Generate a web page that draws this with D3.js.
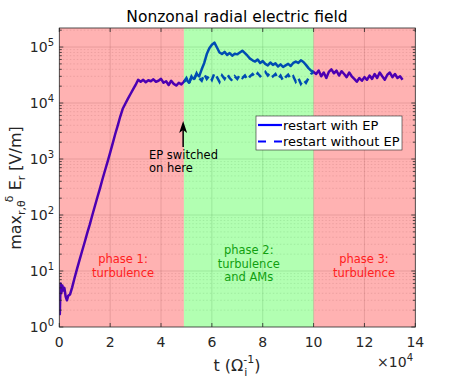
<!DOCTYPE html>
<html>
<head>
<meta charset="utf-8">
<script src="https://cdn.jsdelivr.net/npm/d3@7"></script>
<style>
  body { margin: 0; background: #fff; }
  text { font-family: "DejaVu Sans", sans-serif; fill: #262626; }
</style>
</head>
<body>
<div id="chart"></div>
<script>
// time in units of 1e4 / Omega_i
const tWith = [0, 0.02, 0.05, 0.08, 0.12, 0.16, 0.2, 0.25, 0.3, 0.35, 0.42, 0.5, 0.6, 0.7, 0.8, 0.9,
  1.0, 1.1, 1.2, 1.3, 1.4, 1.5, 1.6, 1.7, 1.8, 1.9, 2.0, 2.1, 2.2, 2.3, 2.4, 2.5, 2.6, 2.7, 2.8, 2.9,
  3.0, 3.1, 3.2, 3.3, 3.4, 3.5, 3.6, 3.7, 3.8, 3.9, 4.0, 4.1, 4.2, 4.3, 4.4, 4.5, 4.6, 4.7, 4.8, 4.9,
  5.0, 5.1, 5.2, 5.3, 5.4, 5.5, 5.6, 5.7, 5.8, 5.9, 6.0, 6.1, 6.2, 6.3, 6.4, 6.5, 6.6, 6.7, 6.8, 6.9,
  7.0, 7.1, 7.2, 7.3, 7.4, 7.5, 7.6, 7.7, 7.8, 7.9, 8.0, 8.1, 8.2, 8.3, 8.4, 8.5, 8.6, 8.7, 8.8, 8.9,
  9.0, 9.1, 9.2, 9.3, 9.4, 9.5, 9.6, 9.7, 9.8, 9.9, 10.0, 10.1, 10.2, 10.3, 10.4, 10.5, 10.6, 10.7,
  10.8, 10.9, 11.0, 11.1, 11.2, 11.3, 11.4, 11.5, 11.6, 11.7, 11.8, 11.9, 12.0, 12.1, 12.2, 12.3,
  12.4, 12.5, 12.6, 12.7, 12.8, 12.9, 13.0, 13.1, 13.2, 13.3, 13.4, 13.5];
const eWith = [3.0, 1.7, 6.0, 4.0, 5.5, 4.5, 5.0, 3.5, 3.0, 3.6, 3.8, 5, 7.5, 11, 16, 23,
  33, 48, 68, 100, 145, 210, 300, 440, 630, 900, 1300, 1900, 2800, 4000, 5800, 8000, 9800, 12000, 14500, 17500,
  21000, 26000, 24000, 26000, 23500, 25500, 24500, 26500, 24000, 25000, 27000, 23000, 24500, 21000, 25000, 22000, 20500, 23000, 21500, 24000,
  26000, 23000, 29000, 27000, 33000, 30000, 40000, 52000, 75000, 95000, 110000, 120000, 98000, 80000, 75000, 82000, 72000, 78000, 70000, 76000,
  74000, 80000, 86000, 78000, 70000, 62000, 58000, 55000, 60000, 52000, 56000, 50000, 47000, 53000, 48000, 51000, 45000, 49000, 44000, 47000,
  50000, 46000, 52000, 55000, 52000, 58000, 54000, 48000, 42000, 38000, 36000, 33000, 38000, 30000, 35000, 28000, 36000, 40000,
  34000, 38000, 31000, 37000, 33000, 29000, 35000, 30000, 27000, 24000, 28000, 25000, 29000, 26000, 31000, 27000,
  33000, 28000, 35000, 30000, 26000, 32000, 35000, 29000, 33000, 28000, 30000, 26000];

const tWithout = [4.9, 5.0, 5.1, 5.2, 5.3, 5.4, 5.5, 5.6, 5.7, 5.8, 5.9, 6.0, 6.1, 6.2, 6.3, 6.4, 6.5,
  6.6, 6.7, 6.8, 6.9, 7.0, 7.1, 7.2, 7.3, 7.4, 7.5, 7.6, 7.7, 7.8, 7.9, 8.0, 8.1, 8.2, 8.3, 8.4, 8.5,
  8.6, 8.7, 8.8, 8.9, 9.0, 9.1, 9.2, 9.3, 9.4, 9.5, 9.6, 9.7, 9.8, 9.9, 10.0];
const eWithout = [24000, 28000, 22000, 30000, 26000, 34000, 28000, 25000, 33000, 27000, 31000, 26000, 34000, 29000, 24000, 31000, 27000,
  33000, 28000, 25000, 30000, 27000, 32000, 28000, 31000, 26000, 30000, 33000, 29000, 34000, 30000, 33000, 36000, 31000, 35000, 30000, 33000,
  27000, 31000, 25000, 29000, 32000, 27000, 30000, 24000, 28000, 22000, 26000, 23000, 28000, 33000, 36000];

const phases = [
  { from: 0, to: 4.9, color: "#ff0000", label: ["phase 1:", "turbulence"], textColor: "#ff2020" },
  { from: 4.9, to: 10, color: "#00ff00", label: ["phase 2:", "turbulence", "and AMs"], textColor: "#10a010" },
  { from: 10, to: 14, color: "#ff0000", label: ["phase 3:", "turbulence"], textColor: "#ff2020" }
];
const xTicks = [0, 2, 4, 6, 8, 10, 12, 14];
const yTicks = [1, 10, 100, 1000, 10000, 100000];
const legendLabels = ["restart with EP", "restart without EP"];

const W = 459, H = 381;
const svg = d3.select("#chart").append("svg").attr("width", W).attr("height", H);

const x = d3.scaleLinear().domain([0, 14]).range([59.3, 415.3]);
const y = d3.scaleLog().domain([1, Math.pow(10, 5.34)]).range([327, 28]);
const [x0, x1] = x.range();
const [y0, y1] = y.range();

// minor y ticks
const yMinor = [];
for (let d = 1; d <= 100000; d *= 10) {
  for (let k = 2; k <= 9; k++) if (d * k <= y.domain()[1]) yMinor.push(d * k);
}

svg.append("rect").attr("x", x0).attr("y", y1).attr("width", x1 - x0).attr("height", y0 - y1).attr("fill", "#fff");

// grid
const grid = svg.append("g");
grid.selectAll(".mg").data(yMinor).enter().append("line")
  .attr("x1", x0).attr("x2", x1).attr("y1", d => y(d)).attr("y2", d => y(d))
  .attr("stroke", "#262626").attr("stroke-opacity", 0.12).attr("stroke-dasharray", "1.5,2");
grid.selectAll(".gy").data(yTicks.slice(1)).enter().append("line")
  .attr("x1", x0).attr("x2", x1).attr("y1", d => y(d)).attr("y2", d => y(d))
  .attr("stroke", "#262626").attr("stroke-opacity", 0.15);
grid.selectAll(".gx").data(xTicks.slice(1, -1)).enter().append("line")
  .attr("y1", y0).attr("y2", y1).attr("x1", d => x(d)).attr("x2", d => x(d))
  .attr("stroke", "#262626").attr("stroke-opacity", 0.15);

// lines
const line = d3.line().x(d => x(d[0])).y(d => y(d[1]));
const clip = svg.append("clipPath").attr("id", "clip").append("rect")
  .attr("x", x0).attr("y", y1).attr("width", x1 - x0).attr("height", y0 - y1);
svg.append("path").datum(d3.zip(tWithout, eWithout)).attr("d", line)
  .attr("fill", "none").attr("stroke", "#0000ff").attr("stroke-width", 2.5)
  .attr("stroke-dasharray", "7,5").attr("clip-path", "url(#clip)");
svg.append("path").datum(d3.zip(tWith, eWith)).attr("d", line)
  .attr("fill", "none").attr("stroke", "#0000ff").attr("stroke-width", 2.5)
  .attr("stroke-linejoin", "round").attr("clip-path", "url(#clip)");

// phase patches (transparent, on top of lines)
svg.selectAll(".phase").data(phases).enter().append("rect")
  .attr("x", d => x(d.from)).attr("width", d => x(d.to) - x(d.from))
  .attr("y", y1).attr("height", y0 - y1)
  .attr("fill", d => d.color).attr("fill-opacity", 0.3);

// axes box and ticks
svg.append("rect").attr("x", x0).attr("y", y1).attr("width", x1 - x0).attr("height", y0 - y1)
  .attr("fill", "none").attr("stroke", "#262626").attr("stroke-width", 0.8);
const ticks = svg.append("g").attr("stroke", "#262626").attr("stroke-width", 0.8);
xTicks.forEach(t => {
  ticks.append("line").attr("x1", x(t)).attr("x2", x(t)).attr("y1", y0).attr("y2", y0 - 4);
  ticks.append("line").attr("x1", x(t)).attr("x2", x(t)).attr("y1", y1).attr("y2", y1 + 4);
});
yTicks.forEach(v => {
  ticks.append("line").attr("x1", x0).attr("x2", x0 + 4).attr("y1", y(v)).attr("y2", y(v));
  ticks.append("line").attr("x1", x1).attr("x2", x1 - 4).attr("y1", y(v)).attr("y2", y(v));
});
yMinor.forEach(v => {
  ticks.append("line").attr("x1", x0).attr("x2", x0 + 2.5).attr("y1", y(v)).attr("y2", y(v));
  ticks.append("line").attr("x1", x1).attr("x2", x1 - 2.5).attr("y1", y(v)).attr("y2", y(v));
});

// tick labels
svg.selectAll(".xl").data(xTicks).enter().append("text")
  .attr("x", d => x(d)).attr("y", 347).attr("text-anchor", "middle")
  .attr("font-size", 14).text(d => d);
yTicks.forEach(v => {
  const t = svg.append("text").attr("x", 54).attr("y", y(v) + 5)
    .attr("text-anchor", "end").attr("font-size", 14);
  t.append("tspan").text("10");
  t.append("tspan").attr("dy", -6).attr("font-size", 10).text(Math.round(Math.log10(v)));
});

// exponent
const ex = svg.append("text").attr("x", 413).attr("y", 367).attr("text-anchor", "end").attr("font-size", 14);
ex.append("tspan").text("\u00d710");
ex.append("tspan").attr("dy", -6).attr("font-size", 10).text("4");

// title
svg.append("text").attr("x", 237).attr("y", 22).attr("text-anchor", "middle")
  .attr("font-size", 15.5).style("fill", "#000").text("Nonzonal radial electric field");

// x label
const xl = svg.append("text").attr("x", 237).attr("y", 371).attr("text-anchor", "middle").attr("font-size", 16);
xl.append("tspan").text("t (\u03a9");
xl.append("tspan").attr("dy", -8).attr("font-size", 11).text("-1");
xl.append("tspan").attr("dx", -10).attr("dy", 13).attr("font-size", 11).text("i");
xl.append("tspan").attr("dx", 7).attr("dy", -5).text(")");

// y label
const yl = svg.append("text").attr("transform", "translate(21,188) rotate(-90)")
  .attr("text-anchor", "middle").attr("font-size", 16);
yl.append("tspan").text("max");
yl.append("tspan").attr("dy", 4).attr("font-size", 11).text("r,\u03b8");
yl.append("tspan").attr("dx", -2).attr("dy", -12).attr("font-size", 11).text("\u03b4");
yl.append("tspan").attr("dy", 8).text(" E");
yl.append("tspan").attr("dy", 4).attr("font-size", 11).text("r");
yl.append("tspan").attr("dy", -4).text(" [V/m]");

// phase labels
phases.forEach((p, i) => {
  const cx = i === 0 ? 123 : (x(p.from) + x(p.to)) / 2 + (i === 2 ? -0.5 : 0);
  const base = p.label.length === 3 ? 254 : 263;
  p.label.forEach((s, j) => {
    svg.append("text").attr("x", cx).attr("y", base + j * 13.5).attr("text-anchor", "middle")
      .attr("font-size", 11.5).style("fill", p.textColor).text(s);
  });
});

// annotation arrow
const ax = x(4.87);
svg.append("line").attr("x1", ax).attr("x2", ax).attr("y1", 147).attr("y2", 126)
  .attr("stroke", "#000").attr("stroke-width", 1.5);
svg.append("path").attr("d", `M${ax},121 L${ax - 4},133 L${ax},130 L${ax + 4},133 Z`).attr("fill", "#000");
svg.append("text").attr("x", 149).attr("y", 159).attr("font-size", 11.5).style("fill", "#000").text("EP switched");
svg.append("text").attr("x", 149).attr("y", 172).attr("font-size", 11.5).style("fill", "#000").text("on here");

// legend
const lg = svg.append("g");
lg.append("rect").attr("x", 256).attr("y", 116).attr("width", 146).attr("height", 34)
  .attr("fill", "#fff").attr("stroke", "#262626").attr("stroke-width", 0.6);
legendLabels.forEach((s, i) => {
  const ly = 125 + i * 16.5;
  lg.append("line").attr("x1", 258).attr("x2", 282).attr("y1", ly).attr("y2", ly)
    .attr("stroke", "#0000ff").attr("stroke-width", 2.2)
    .attr("stroke-dasharray", i === 1 ? "8,8" : null);
  lg.append("text").attr("x", 283).attr("y", ly + 4.5).attr("font-size", 13).style("fill", "#000").text(s);
});
</script>
</body>
</html>
